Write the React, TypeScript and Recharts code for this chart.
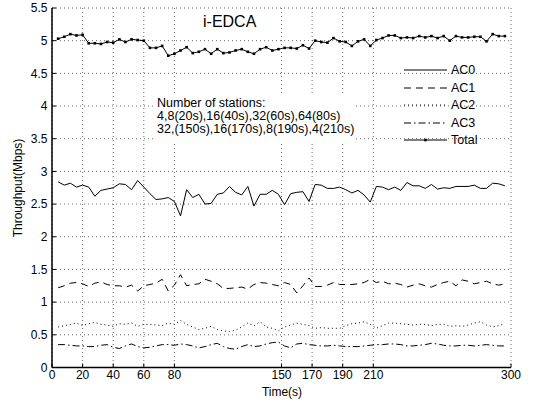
import React from 'react';
import { LineChart, Line, XAxis, YAxis, CartesianGrid } from 'recharts';

const time = [4, 8, 12, 16, 20, 24, 28, 32, 36, 40, 44, 48, 52, 56, 60, 64, 68, 72, 76, 80, 84, 88, 92, 96, 100, 104, 108, 112, 116, 120, 124, 128, 132, 136, 140, 144, 148, 152, 156, 160, 164, 168, 172, 176, 180, 184, 188, 192, 196, 200, 204, 208, 212, 216, 220, 224, 228, 232, 236, 240, 244, 248, 252, 256, 260, 264, 268, 272, 276, 280, 284, 288, 292, 296];

const ac0 = [2.84, 2.79, 2.82, 2.76, 2.79, 2.76, 2.62, 2.71, 2.73, 2.75,
  2.81, 2.80, 2.72, 2.86, 2.76, 2.66, 2.57, 2.58, 2.60, 2.54,
  2.32, 2.72, 2.60, 2.65, 2.50, 2.51, 2.65, 2.67, 2.77, 2.68,
  2.64, 2.77, 2.47, 2.65, 2.65, 2.71, 2.65, 2.49, 2.66, 2.68,
  2.69, 2.54, 2.80, 2.79, 2.74, 2.74, 2.76, 2.72, 2.67, 2.71,
  2.64, 2.53, 2.77, 2.76, 2.72, 2.76, 2.71, 2.83, 2.78, 2.78,
  2.74, 2.80, 2.73, 2.75, 2.74, 2.77, 2.77, 2.77, 2.79, 2.74,
  2.74, 2.82, 2.81, 2.78];

const ac1 = [1.22, 1.25, 1.29, 1.30, 1.28, 1.24, 1.29, 1.31, 1.27, 1.25,
  1.25, 1.23, 1.26, 1.17, 1.25, 1.27, 1.29, 1.35, 1.17, 1.26,
  1.42, 1.25, 1.27, 1.28, 1.35, 1.32, 1.28, 1.21, 1.21, 1.22,
  1.23, 1.20, 1.27, 1.30, 1.29, 1.27, 1.25, 1.30, 1.27, 1.14,
  1.25, 1.37, 1.24, 1.24, 1.26, 1.30, 1.27, 1.27, 1.27, 1.28,
  1.30, 1.35, 1.30, 1.32, 1.28, 1.29, 1.27, 1.23, 1.26, 1.28,
  1.25, 1.23, 1.27, 1.30, 1.32, 1.25, 1.34, 1.32, 1.28, 1.30,
  1.32, 1.28, 1.26, 1.28];

const ac2 = [0.62, 0.64, 0.66, 0.68, 0.64, 0.67, 0.69, 0.66, 0.65, 0.63,
  0.67, 0.66, 0.68, 0.63, 0.66, 0.66, 0.65, 0.64, 0.68, 0.66,
  0.72, 0.66, 0.62, 0.58, 0.60, 0.63, 0.58, 0.56, 0.55, 0.57,
  0.62, 0.68, 0.64, 0.70, 0.62, 0.60, 0.56, 0.62, 0.65, 0.68,
  0.66, 0.64, 0.60, 0.61, 0.60, 0.60, 0.60, 0.64, 0.67, 0.68,
  0.70, 0.66, 0.60, 0.64, 0.68, 0.68, 0.67, 0.66, 0.65, 0.66,
  0.66, 0.64, 0.66, 0.66, 0.63, 0.64, 0.63, 0.65, 0.68, 0.70,
  0.65, 0.62, 0.64, 0.67];

const ac3 = [0.35, 0.35, 0.34, 0.33, 0.33, 0.32, 0.32, 0.34, 0.35, 0.31,
  0.29, 0.33, 0.36, 0.32, 0.30, 0.31, 0.33, 0.35, 0.35, 0.34,
  0.36, 0.35, 0.33, 0.30, 0.32, 0.35, 0.37, 0.32, 0.29, 0.28,
  0.32, 0.35, 0.32, 0.33, 0.36, 0.38, 0.39, 0.33, 0.30, 0.36,
  0.37, 0.35, 0.34, 0.33, 0.33, 0.34, 0.33, 0.32, 0.32, 0.32,
  0.33, 0.34, 0.35, 0.35, 0.36, 0.36, 0.35, 0.33, 0.33, 0.34,
  0.35, 0.37, 0.36, 0.34, 0.33, 0.33, 0.34, 0.34, 0.33, 0.34,
  0.35, 0.34, 0.33, 0.33];

const total = [5.03, 5.06, 5.10, 5.08, 5.09, 4.96, 4.96, 4.95, 4.98, 4.97,
  5.02, 4.98, 5.02, 5.01, 5.00, 4.89, 4.89, 4.92, 4.77, 4.80,
  4.85, 4.90, 4.81, 4.83, 4.87, 4.80, 4.87, 4.81, 4.82, 4.85,
  4.87, 4.83, 4.80, 4.87, 4.90, 4.85, 4.87, 4.89, 4.89, 4.88,
  4.93, 4.88, 5.00, 4.98, 4.97, 5.04, 4.99, 4.98, 4.92, 4.99,
  5.02, 4.92, 5.01, 5.04, 5.08, 5.08, 5.04, 5.05, 5.04, 5.07,
  5.05, 5.07, 5.04, 5.07, 5.00, 5.07, 5.05, 5.05, 5.06, 5.06,
  4.99, 5.10, 5.07, 5.07];

const xTicks = [0, 20, 40, 60, 80, 150, 170, 190, 210, 300];
const yTicks = [0, 0.5, 1, 1.5, 2, 2.5, 3, 3.5, 4, 4.5, 5, 5.5];

const seriesNames = ['AC0', 'AC1', 'AC2', 'AC3', 'Total'];
const seriesDash = ['', '7 5', '1 3', '7 3 1.5 3', ''];
const titleText = 'i-EDCA';
const noteLines = [
  'Number of stations:',
  '4,8(20s),16(40s),32(60s),64(80s)',
  '32,(150s),16(170s),8(190s),4(210s)',
];

const data = time.map((t, i) => ({
  t,
  ac0: ac0[i],
  ac1: ac1[i],
  ac2: ac2[i],
  ac3: ac3[i],
  total: total[i],
}));

const FONT = '"Liberation Sans", Arial, Helvetica, sans-serif';

const SquareDot = (props: any) => {
  const { cx, cy, index } = props;
  if (cx == null || cy == null) return <g key={index} />;
  return <rect key={index} x={cx - 1.3} y={cy - 1.3} width={2.6} height={2.6} fill="#000" />;
};

export default function App() {
  const tickStyle = { fontSize: 12, fill: '#000', fontFamily: FONT };
  return (
    <div style={{ position: 'absolute', left: 0, top: 0, width: 549, height: 405, background: '#fff', fontFamily: FONT }}>
      <LineChart width={549} height={405} data={data} margin={{ top: 8, right: 38, bottom: 17.5, left: 12 }}>
        <CartesianGrid stroke="#444" strokeDasharray="1 3" strokeWidth={0.8} />
        <XAxis
          dataKey="t"
          type="number"
          domain={[0, 300]}
          ticks={xTicks}
          interval={0}
          height={20}
          tickSize={-4}
          tickMargin={7}
          tick={tickStyle}
          axisLine={{ stroke: '#000', strokeWidth: 1.5 }}
          tickLine={{ stroke: '#000' }}
        />
        <XAxis
          xAxisId="top"
          orientation="top"
          type="number"
          domain={[0, 300]}
          ticks={xTicks}
          interval={0}
          height={0}
          tick={false}
          tickSize={-4}
          axisLine={{ stroke: '#000', strokeWidth: 1 }}
          tickLine={{ stroke: '#000' }}
        />
        <YAxis
          type="number"
          domain={[0, 5.5]}
          ticks={yTicks}
          interval={0}
          width={40}
          tickSize={-4}
          tickMargin={8.5}
          tick={tickStyle}
          axisLine={{ stroke: '#000', strokeWidth: 1.5 }}
          tickLine={{ stroke: '#000' }}
        />
        <YAxis
          yAxisId="r"
          orientation="right"
          type="number"
          domain={[0, 5.5]}
          ticks={yTicks}
          interval={0}
          width={0}
          tick={false}
          tickSize={-4}
          axisLine={{ stroke: '#000', strokeWidth: 1 }}
          tickLine={{ stroke: '#000' }}
        />
        <Line dataKey="ac0" name="AC0" stroke="#000" strokeWidth={1} dot={false} isAnimationActive={false} />
        <Line dataKey="ac1" name="AC1" stroke="#000" strokeWidth={1} strokeDasharray="7 5" dot={false} isAnimationActive={false} />
        <Line dataKey="ac2" name="AC2" stroke="#000" strokeWidth={1} strokeDasharray="1 3" dot={false} isAnimationActive={false} />
        <Line dataKey="ac3" name="AC3" stroke="#000" strokeWidth={1} strokeDasharray="7 3 1.5 3" dot={false} isAnimationActive={false} />
        <Line dataKey="total" name="Total" stroke="#000" strokeWidth={1} dot={<SquareDot />} isAnimationActive={false} />
      </LineChart>

      {/* title */}
      <div style={{ position: 'absolute', left: 203, top: 13, fontSize: 16, lineHeight: '18px', color: '#000', whiteSpace: 'nowrap' }}>
        {titleText}
      </div>

      {/* annotation box */}
      <div style={{ position: 'absolute', left: 153, top: 93, width: 200, height: 49, background: '#fff' }} />
      {noteLines.map((s, i) => (
        <div key={i} style={{ position: 'absolute', left: 157, top: 97 + i * 13, fontSize: 12.5, lineHeight: '13px', color: '#000', whiteSpace: 'nowrap' }}>
          {s}
        </div>
      ))}

      {/* legend */}
      {seriesNames.map((n, i) => {
        const cy = 70 + i * 17.6;
        return (
          <div key={n} style={{ position: 'absolute', left: 404, top: cy - 8, height: 16, display: 'flex', alignItems: 'center' }}>
            <svg width={44} height={16} style={{ display: 'block' }}>
              <line x1={0} y1={8} x2={43} y2={8} stroke="#000" strokeWidth={1} strokeDasharray={seriesDash[i] || undefined} />
              {n === 'Total' && <rect x={20.2} y={6.7} width={2.6} height={2.6} fill="#000" />}
            </svg>
            <span style={{ marginLeft: 3, fontSize: 12.5, color: '#000', whiteSpace: 'nowrap' }}>{n}</span>
          </div>
        );
      })}

      {/* axis titles */}
      <div style={{ position: 'absolute', left: 282, top: 392, transform: 'translate(-50%, -50%)', fontSize: 12, color: '#000', whiteSpace: 'nowrap' }}>
        Time(s)
      </div>
      <div style={{ position: 'absolute', left: 18, top: 188, transform: 'translate(-50%, -50%) rotate(-90deg)', fontSize: 12, color: '#000', whiteSpace: 'nowrap' }}>
        Throughput(Mbps)
      </div>
    </div>
  );
}
